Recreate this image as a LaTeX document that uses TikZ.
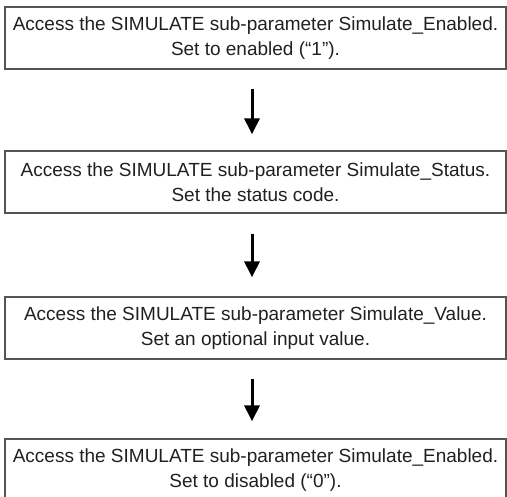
\documentclass[tikz,border=0pt]{standalone}
\usepackage{fontspec}
\setmainfont{Liberation Sans}
\usetikzlibrary{arrows.meta}
\definecolor{boxgray}{HTML}{555555}
\definecolor{txt}{HTML}{231F20}
\begin{document}
\begin{tikzpicture}[x=1pt,y=-1pt,
  stepbox/.style={draw=boxgray, line width=1.2pt, minimum width=501pt, minimum height=62pt,
    inner sep=0pt, align=center, text=txt,
    font=\fontsize{19pt}{25pt}\selectfont},
  flow/.style={line width=3pt, black, -{Triangle[width=15pt,length=16pt]}}]
\useasboundingbox (0,0) rectangle (507,497);
\node[stepbox] (b1) at (255.5,38) {Access the SIMULATE sub-parameter Simulate\_Enabled.\\Set to enabled (“1”).};
\node[stepbox] (b2) at (255.5,182) {Access the SIMULATE sub-parameter Simulate\_Status.\\Set the status code.};
\node[stepbox] (b3) at (255.5,328) {Access the SIMULATE sub-parameter Simulate\_Value.\\Set an optional input value.};
\node[stepbox] (b4) at (255.5,470) {Access the SIMULATE sub-parameter Simulate\_Enabled.\\Set to disabled (“0”).};
\draw[flow] ([xshift=-3.5pt,yshift=-19pt]b1.south) -- ([xshift=-3.5pt,yshift=16pt]b2.north);
\draw[flow] ([xshift=-3.5pt,yshift=-20pt]b2.south) -- ([xshift=-3.5pt,yshift=19pt]b3.north);
\draw[flow] ([xshift=-3.5pt,yshift=-19pt]b3.south) -- ([xshift=-3.5pt,yshift=17pt]b4.north);
\end{tikzpicture}
\end{document}
